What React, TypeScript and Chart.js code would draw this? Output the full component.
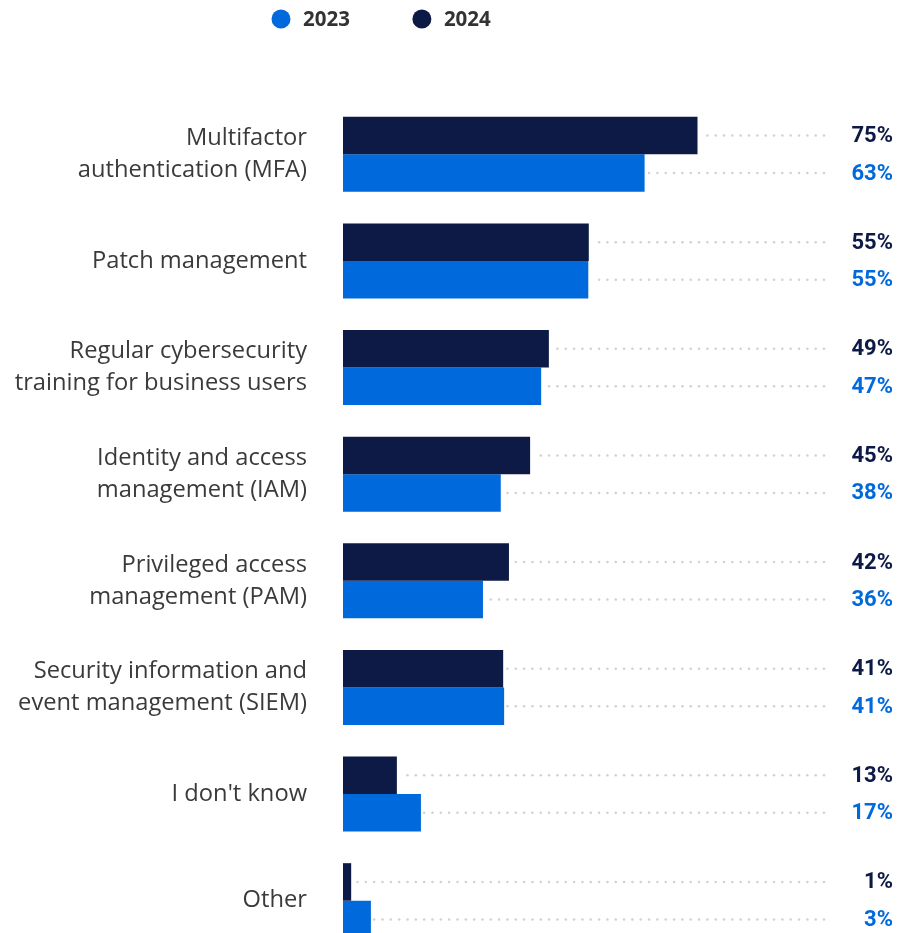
import React, { useEffect, useRef } from "react";
import { Chart, registerables } from "chart.js";

Chart.register(...registerables);

// ---- data ----
const categories: (string | string[])[] = [
  ["Multifactor", "authentication (MFA)"],
  "Patch management",
  ["Regular cybersecurity", "training for business users"],
  ["Identity and access", "management (IAM)"],
  ["Privileged access", "management (PAM)"],
  ["Security information and", "event management (SIEM)"],
  "I don't know",
  "Other",
];
const seriesNames = ["2024", "2023"];
// bar lengths as drawn in the picture (axis units 0-100)
const barLength2024 = [73.7, 51.1, 42.8, 38.9, 34.5, 33.3, 11.2, 1.7];
const barLength2023 = [62.7, 51.0, 41.2, 32.8, 29.1, 33.5, 16.2, 5.8];
// printed value labels (%)
const shown2024 = [75, 55, 49, 45, 42, 41, 13, 1];
const shown2023 = [63, 55, 47, 38, 36, 41, 17, 3];

const NAVY = "#0c1a45";
const BLUE = "#0069db";

export default function App() {
  const ref = useRef<HTMLCanvasElement>(null);

  useEffect(() => {
    const canvas = ref.current;
    if (!canvas) return;
    const shown = [shown2024, shown2023];
    const textColors = [NAVY, BLUE];

    const leaderPlugin = {
      id: "leaders",
      afterDatasetsDraw(chart: any) {
        const ctx = chart.ctx;
        const right = chart.chartArea.right;
        chart.data.datasets.forEach((_ds: any, di: number) => {
          const meta = chart.getDatasetMeta(di);
          meta.data.forEach((bar: any, i: number) => {
            const { x, y } = bar.getProps(["x", "y"], true);
            ctx.save();
            ctx.fillStyle = "#d2d2d2";
            for (let dx = right; dx > x + 3; dx -= 8.33) {
              ctx.beginPath();
              ctx.arc(dx, y, 1.3, 0, Math.PI * 2);
              ctx.fill();
            }
            ctx.font = "bold 22px Roboto";
            ctx.textAlign = "right";
            ctx.textBaseline = "middle";
            ctx.fillStyle = textColors[di];
            ctx.fillText(shown[di][i] + "%", chart.width - 4, y + 1);
            ctx.restore();
          });
        });
      },
    };

    const legendPlugin = {
      id: "customLegend",
      afterDraw(chart: any) {
        const ctx = chart.ctx;
        const order = [1, 0];
        let cx = 281;
        const cy = 19;
        ctx.save();
        ctx.font = 'bold 20.5px "Open Sans"';
        ctx.textBaseline = "middle";
        ctx.textAlign = "left";
        order.forEach((di) => {
          const ds = chart.data.datasets[di];
          ctx.fillStyle = ds.backgroundColor;
          ctx.beginPath();
          ctx.arc(cx, cy, 9.5, 0, Math.PI * 2);
          ctx.fill();
          ctx.fillStyle = "#333333";
          const tx = cx + 22;
          ctx.fillText(ds.label, tx, cy + 1);
          cx = tx + ctx.measureText(ds.label).width + 72;
        });
        ctx.restore();
      },
    };

    const chart = new Chart(canvas, {
      type: "bar",
      data: {
        labels: categories,
        datasets: [
          {
            label: seriesNames[0],
            data: barLength2024,
            backgroundColor: NAVY,
            barPercentage: 1,
            categoryPercentage: 0.7036,
            borderWidth: 0,
          },
          {
            label: seriesNames[1],
            data: barLength2023,
            backgroundColor: BLUE,
            barPercentage: 1,
            categoryPercentage: 0.7036,
            borderWidth: 0,
          },
        ],
      },
      options: {
        indexAxis: "y",
        animation: false,
        responsive: false,
        layout: { padding: { top: 101, right: 73, bottom: 6, left: 0 } },
        plugins: {
          legend: { display: false },
          tooltip: { enabled: false },
        },
        scales: {
          x: { display: false, min: 0, max: 100 },
          y: {
            grid: { display: false, drawTicks: false },
            border: { display: false },
            ticks: {
              padding: 36,
              color: "#3a3a3a",
              font: { family: '"Open Sans"', size: 23.7, lineHeight: 32 / 23.7 },
            },
            afterFit(scale: any) {
              scale.width = 343;
              scale.paddingTop = 0;
              scale.paddingBottom = 0;
            },
          },
        },
      },
      plugins: [leaderPlugin, legendPlugin],
    } as any);

    return () => chart.destroy();
  }, []);

  return (
    <div
      style={{
        position: "fixed",
        top: 0,
        left: 0,
        width: 897,
        height: 933,
        overflow: "hidden",
        background: "#ffffff",
      }}
    >
      <canvas ref={ref} width={897} height={960} style={{ display: "block" }} />
    </div>
  );
}
